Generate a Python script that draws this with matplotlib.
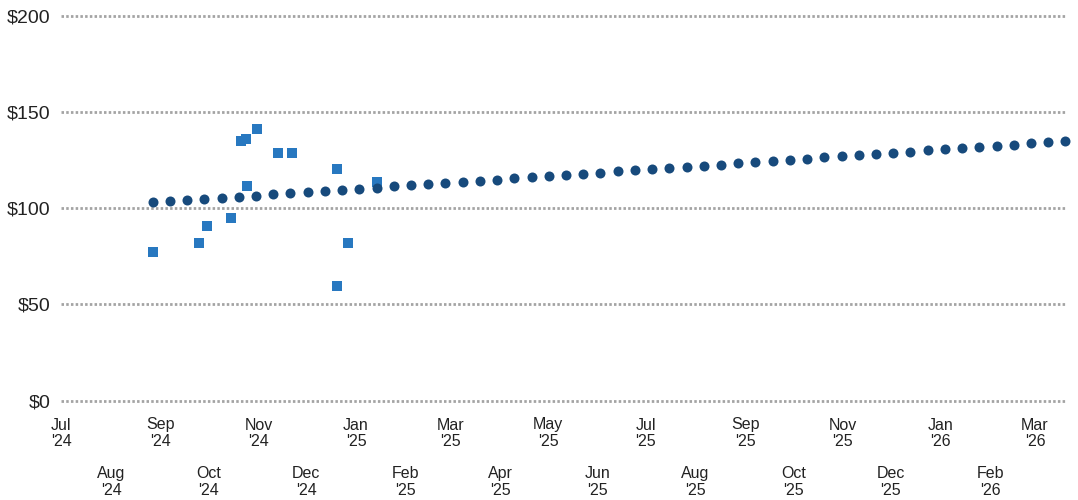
import matplotlib
matplotlib.use("Agg")
import matplotlib.pyplot as plt
import matplotlib.dates as mdates
import pandas as pd

# ---- data ----
trend_dates = pd.date_range("2024-08-27", "2026-03-20", periods=54)
trend_values = [
    103.1, 103.7, 104.3, 104.9, 105.4, 106.0, 106.6, 107.2, 107.8, 108.4,
    109.0, 109.5, 110.1, 110.7, 111.3, 111.9,
    112.5, 113.1, 113.7, 114.3, 114.9, 115.5, 116.1, 116.7, 117.3, 117.9,
    118.5, 119.1, 119.7, 120.3, 120.9, 121.5, 122.1, 122.7, 123.3,
    123.9, 124.5, 125.1, 125.8, 126.4, 127.0, 127.6, 128.2, 128.8, 129.4,
    130.0, 130.6, 131.2, 131.8, 132.4, 133.0, 133.7, 134.3, 134.9,
]
point_dates = pd.to_datetime([
    "2024-08-27", "2024-09-25", "2024-09-30", "2024-10-15", "2024-10-21",
    "2024-10-24", "2024-10-25", "2024-10-31", "2024-11-13", "2024-11-22",
    "2024-12-20", "2024-12-20", "2024-12-27", "2025-01-14",
])
point_values = [77.4, 82.1, 90.9, 94.8, 134.9, 135.8, 111.7, 141.1, 128.5,
                128.5, 120.5, 59.7, 82.1, 113.8]
y_ticks = [0, 50, 100, 150, 200]
y_tick_labels = ["$0", "$50", "$100", "$150", "$200"]

# ---- figure ----
plt.rcParams["font.family"] = ["Liberation Sans", "DejaVu Sans"]
fig = plt.figure(figsize=(10.78, 5.0), dpi=100)
ax = fig.add_axes([0.057, 0.19, 0.9328, 0.79])

ax.scatter(point_dates, point_values, marker="s", s=54, color="#2878C0",
           linewidths=0, zorder=3, clip_on=False)
ax.scatter(trend_dates, trend_values, marker="o", s=52, color="#174A7C",
           linewidths=0, zorder=4, clip_on=False)

ax.set_xlim(pd.Timestamp("2024-07-01"), pd.Timestamp("2026-03-21"))
ax.set_ylim(-2.2, 202.96)

ax.set_yticks(y_ticks)
ax.set_yticklabels(y_tick_labels)
ax.tick_params(axis="y", length=0, pad=8, labelsize=14, labelcolor="#222222")

ax.xaxis.set_major_locator(mdates.MonthLocator(bymonth=[1, 3, 5, 7, 9, 11]))
ax.xaxis.set_minor_locator(mdates.MonthLocator(bymonth=[2, 4, 6, 8, 10, 12]))
fmt = mdates.DateFormatter("%b\n'%y")
ax.xaxis.set_major_formatter(fmt)
ax.xaxis.set_minor_formatter(fmt)
ax.tick_params(axis="x", which="major", length=0, pad=9, labelsize=11.5,
               labelcolor="#222222")
ax.tick_params(axis="x", which="minor", length=0, pad=44, labelsize=11.5,
               labelcolor="#222222")
for lab in ax.get_xticklabels(which="both"):
    lab.set_linespacing(1.15)

ax.grid(axis="y", linestyle=(0, (0.9, 0.8)), linewidth=2.0, color="#a4a4a4")
ax.grid(axis="x", visible=False)
ax.set_axisbelow(True)
for sp in ax.spines.values():
    sp.set_visible(False)

fig.savefig("out.png", dpi=100)
